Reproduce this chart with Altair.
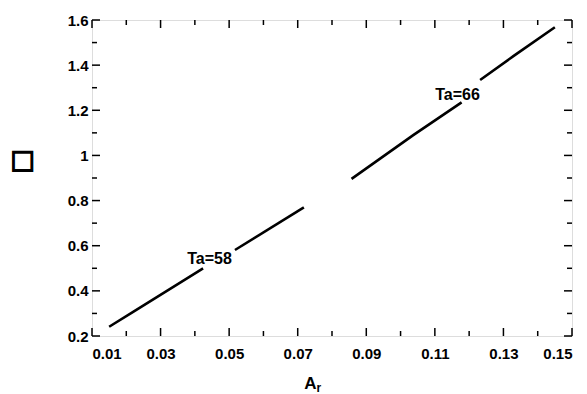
import altair as alt
import pandas as pd

# Curve data (segments separated where the labels interrupt the line)
seg = [1, 1, 1, 2, 2, 3, 3, 3, 4, 4, 4]
ar = [0.015, 0.022, 0.0424, 0.0517, 0.0718, 0.0857, 0.1037, 0.1178, 0.1232, 0.1329, 0.145]
val = [0.241, 0.307, 0.500, 0.581, 0.770, 0.896, 1.090, 1.235, 1.334, 1.440, 1.568]

label_text = ["Ta=58", "Ta=66"]
label_x = [0.0443, 0.1166]
label_y = [0.543, 1.266]

x_major = [0.01, 0.03, 0.05, 0.07, 0.09, 0.11, 0.13, 0.15]
x_minor = [0.02, 0.04, 0.06, 0.08, 0.10, 0.12, 0.14]
y_major = [0.2, 0.4, 0.6, 0.8, 1.0, 1.2, 1.4, 1.6]
y_minor = [0.3, 0.5, 0.7, 0.9, 1.1, 1.3, 1.5]

W, H = 480, 316
MAJ, MIN = 8, 5
FONT = "Liberation Sans"

df = pd.DataFrame({"seg": seg, "ar": ar, "val": val})
lab = pd.DataFrame({"t": label_text, "x": label_x, "y": label_y})
xmaj = pd.DataFrame({"v": x_major})
xmin = pd.DataFrame({"v": x_minor})
ymaj = pd.DataFrame({"v": y_major})
ymin = pd.DataFrame({"v": y_minor})

xs = alt.Scale(domain=[0.01, 0.15], nice=False, zero=False)
ys = alt.Scale(domain=[0.2, 1.6], nice=False, zero=False)

xaxis = alt.Axis(values=x_major, format=".2f", ticks=False, domain=False, grid=False,
                 labelFont=FONT, labelFontWeight="bold", labelFontSize=15,
                 labelColor="black", labelPadding=10, title=None)
yaxis = alt.Axis(values=y_major, format="~g", ticks=False, domain=False, grid=False,
                 labelFont=FONT, labelFontWeight="bold", labelFontSize=15,
                 labelColor="black", labelPadding=4, title=None)

line = alt.Chart(df).mark_line(color="black", strokeWidth=2.6).encode(
    x=alt.X("ar:Q", scale=xs, axis=xaxis),
    y=alt.Y("val:Q", scale=ys, axis=yaxis),
    detail="seg:N",
    order="ar:Q",
)

labels = alt.Chart(lab).mark_text(font=FONT, fontWeight="bold", fontSize=16,
                                  color="black", align="center", baseline="middle").encode(
    x=alt.X("x:Q", scale=xs), y=alt.Y("y:Q", scale=ys), text="t:N")


def xticks(d, ln):
    b = alt.Chart(d).mark_rule(color="black", strokeWidth=1.5).encode(
        x=alt.X("v:Q", scale=xs), y=alt.value(H), y2=alt.value(H - ln))
    t = alt.Chart(d).mark_rule(color="black", strokeWidth=1.5).encode(
        x=alt.X("v:Q", scale=xs), y=alt.value(0), y2=alt.value(ln))
    return b + t


def yticks(d, ln):
    l = alt.Chart(d).mark_rule(color="black", strokeWidth=1.5).encode(
        y=alt.Y("v:Q", scale=ys), x=alt.value(0), x2=alt.value(ln))
    r = alt.Chart(d).mark_rule(color="black", strokeWidth=1.5).encode(
        y=alt.Y("v:Q", scale=ys), x=alt.value(W), x2=alt.value(W - ln))
    return l + r


ytitle = alt.Chart(pd.DataFrame({"t": ["□"]})).mark_text(
    font="DejaVu Sans", fontSize=26, color="black", stroke="black", strokeWidth=1.4,
    align="center", baseline="middle").encode(
    x=alt.value(-69.5), y=alt.value(140), text="t:N")

xtitle_a = alt.Chart(pd.DataFrame({"t": ["A"]})).mark_text(
    font=FONT, fontWeight="bold", fontSize=17, color="black", align="center",
    baseline="alphabetic").encode(x=alt.value(218.5), y=alt.value(369), text="t:N")
xtitle_r = alt.Chart(pd.DataFrame({"t": ["r"]})).mark_text(
    font=FONT, fontWeight="bold", fontSize=12, color="black", align="left",
    baseline="alphabetic").encode(x=alt.value(224.5), y=alt.value(372), text="t:N")

chart = alt.layer(
    line, labels,
    xticks(xmaj, MAJ), xticks(xmin, MIN), yticks(ymaj, MAJ), yticks(ymin, MIN),
    ytitle, xtitle_a, xtitle_r,
).properties(
    width=W, height=H,
    autosize=alt.AutoSizeParams(type="none"),
    padding={"left": 92, "top": 20, "right": 15, "bottom": 58},
).configure_view(
    stroke="black", strokeWidth=3
).configure(background="white")

chart.save("out.html", embed_options={"renderer": "svg", "actions": False})
